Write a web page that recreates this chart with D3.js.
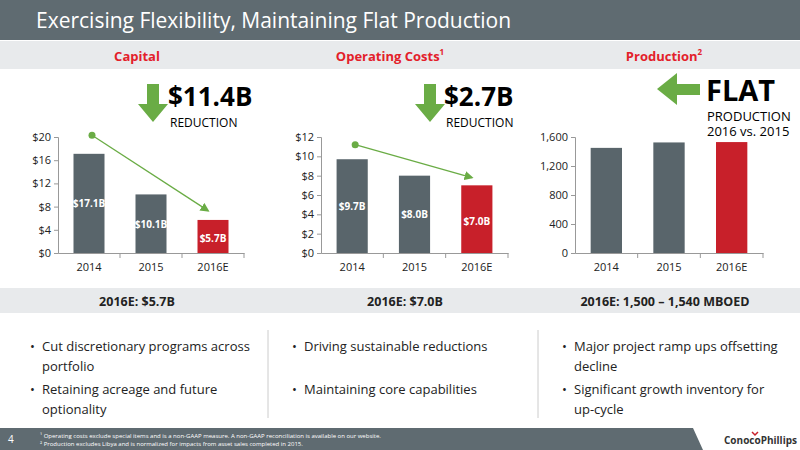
<!DOCTYPE html>
<html><head><meta charset="utf-8">
<script src="https://cdn.jsdelivr.net/npm/d3@7"></script>
<style>body{margin:0;background:#fff}svg{font-family:"Open Sans",sans-serif}</style>
</head><body><svg id="c" width="800" height="450"></svg>
<script>
var years = ["2014", "2015", "2016E"];
var capital = [17.1, 10.1, 5.7];
var capitalLabels = ["$17.1B", "$10.1B", "$5.7B"];
var opcost = [9.7, 8.0, 7.0];
var opcostLabels = ["$9.7B", "$8.0B", "$7.0B"];
var production = [1450, 1525, 1530];
var capTrend = [20.3, 7.3];
var opTrend = [11.2, 7.8];

var gray = "#59656b", red = "#c8202a", green = "#6aac45";
var svg = d3.select("#c");
var narrow = "'Liberation Sans Narrow','Open Sans',sans-serif";

// header
svg.append("rect").attr("width", 800).attr("height", 40).attr("fill", "#5f6b71");
svg.append("text").attr("x", 36).attr("y", 28).attr("fill", "#fff").style("font-size", "21px").text("Exercising Flexibility, Maintaining Flat Production");
svg.append("rect").attr("y", 41).attr("width", 800).attr("height", 28).attr("fill", "#e8eaec");
[["Capital", 137, ""], ["Operating Costs", 390, "1"], ["Production", 664, "2"]].forEach(function(t) {
  var tx = svg.append("text").attr("x", t[1]).attr("y", 61).attr("text-anchor", "middle").attr("fill", "#e3202a").style("font-size", "13px").style("font-weight", "bold").text(t[0]);
  if (t[2]) tx.append("tspan").attr("dy", -6).style("font-size", "8px").text(t[2]);
});

function downArrow(x, y) {
  svg.append("path").attr("d", "M" + (x - 6) + "," + y + "h12v20h9l-15,18l-15,-18h9z").attr("fill", green);
}
downArrow(153, 84);
downArrow(430, 84);
svg.append("path").attr("d", "M700,84v11h-23v10l-20,-16l20,-16v11z").attr("fill", green);
svg.append("text").attr("x", 168).attr("y", 106).style("font-size", "26px").style("font-weight", "bold").style("font-family", narrow).text("$11.4B");
svg.append("text").attr("x", 170).attr("y", 127).style("font-size", "12px").style("font-family", narrow).text("REDUCTION");
svg.append("text").attr("x", 444).attr("y", 106).style("font-size", "26px").style("font-weight", "bold").style("font-family", narrow).text("$2.7B");
svg.append("text").attr("x", 446).attr("y", 127).style("font-size", "12px").style("font-family", narrow).text("REDUCTION");
svg.append("text").attr("x", 706).attr("y", 101).style("font-size", "29px").style("font-weight", "bold").style("font-family", narrow).text("FLAT");
svg.append("text").attr("x", 707).attr("y", 121).style("font-size", "13px").style("font-family", narrow).text("PRODUCTION");
svg.append("text").attr("x", 707).attr("y", 136).style("font-size", "13px").style("font-family", narrow).text("2016 vs. 2015");

var defs = svg.append("defs");
defs.append("marker").attr("id", "ah").attr("viewBox", "0 0 10 10").attr("refX", 8).attr("refY", 5)
  .attr("markerWidth", 7).attr("markerHeight", 7).attr("orient", "auto")
  .append("path").attr("d", "M0,0L10,5L0,10z").attr("fill", green);

function chart(x0, x1, max, step, fmt, vals, labels, trend) {
  var x = d3.scaleBand().domain(years).range([x0, x1]).paddingInner(0.5).paddingOuter(0.25);
  var y = d3.scaleLinear().domain([0, max]).range([253, 137]);
  var g = svg.append("g");
  g.append("g").attr("transform", "translate(" + x0 + ",0)")
    .call(d3.axisLeft(y).tickValues(d3.range(0, max + 1, step)).tickFormat(fmt).tickSize(4))
    .call(function(a) { a.selectAll("text").style("font-size", "11px").style("font-family", narrow).attr("fill", "#222"); a.selectAll("line,path").attr("stroke", "#999"); });
  g.append("g").attr("transform", "translate(0,253)")
    .call(d3.axisBottom(x).tickSize(0).tickPadding(10))
    .call(function(a) { a.selectAll("text").style("font-size", "11px").style("font-family", narrow).attr("fill", "#222"); a.select("path").attr("stroke", "#999"); });
  var xs = d3.scaleLinear().domain([0, 3]).range([x0, x1]);
  [1, 2, 3].forEach(function(i) { g.append("line").attr("x1", xs(i)).attr("x2", xs(i)).attr("y1", 253).attr("y2", 258).attr("stroke", "#999"); });
  g.selectAll("rect.b").data(vals).enter().append("rect")
    .attr("x", function(d, i) { return x(years[i]); }).attr("width", x.bandwidth())
    .attr("y", function(d) { return y(d); }).attr("height", function(d) { return 253 - y(d); })
    .attr("fill", function(d, i) { return i == 2 ? red : gray; });
  if (labels) {
    g.selectAll("text.l").data(vals).enter().append("text")
      .attr("x", function(d, i) { return x(years[i]) + x.bandwidth() / 2; })
      .attr("y", function(d, i) { return i == 2 ? y(d / 2) + 6 : y(d / 2) + 4; })
      .attr("text-anchor", "middle").attr("fill", "#fff").style("font-size", "10px").style("font-weight", "bold").style("font-family", narrow)
      .text(function(d, i) { return labels[i]; });
  }
  if (trend) {
    var ax = x(years[0]) + x.bandwidth() / 2 + 3, bx = x(years[2]) + x.bandwidth() / 2 - 5;
    g.append("line").attr("x1", ax).attr("y1", y(trend[0])).attr("x2", bx).attr("y2", y(trend[1]))
      .attr("stroke", green).attr("stroke-width", 1.3).attr("marker-end", "url(#ah)");
    g.append("circle").attr("cx", ax).attr("cy", y(trend[0])).attr("r", 3.5).attr("fill", green);
  }
}
chart(58, 244, 20, 4, function(d) { return "$" + d; }, capital, capitalLabels, capTrend);
chart(321, 508, 12, 2, function(d) { return "$" + d; }, opcost, opcostLabels, opTrend);
chart(575, 763, 1600, 400, d3.format(","), production, null, null);

// summary band
svg.append("rect").attr("y", 288).attr("width", 800).attr("height", 25).attr("fill", "#e8eaec");
[["2016E: $5.7B", 137], ["2016E: $7.0B", 405], ["2016E: 1,500 \u2013 1,540 MBOED", 665]].forEach(function(t) {
  svg.append("text").attr("x", t[1]).attr("y", 306).attr("text-anchor", "middle").style("font-size", "12.5px").style("font-weight", "bold").attr("fill", "#222").text(t[0]);
});
[268, 538].forEach(function(xx) { svg.append("line").attr("x1", xx).attr("x2", xx).attr("y1", 330).attr("y2", 418).attr("stroke", "#ccc"); });

var bullets = [
  [30, [["Cut discretionary programs across", "portfolio"], ["Retaining acreage and future", "optionality"]]],
  [292, [["Driving sustainable reductions"], ["Maintaining core capabilities"]]],
  [562, [["Major project ramp ups offsetting", "decline"], ["Significant growth inventory for", "up-cycle"]]]
];
bullets.forEach(function(b) {
  b[1].forEach(function(item, i) {
    var yy = 351 + i * 43;
    svg.append("text").attr("x", b[0]).attr("y", yy).style("font-size", "13px").attr("fill", "#222").text("\u2022");
    item.forEach(function(line, j) {
      svg.append("text").attr("x", b[0] + 12).attr("y", yy + j * 20).style("font-size", "13px").attr("fill", "#222").text(line);
    });
  });
});

// footer
svg.append("rect").attr("y", 428).attr("width", 800).attr("height", 22).attr("fill", "#5f6b71");
svg.append("path").attr("d", "M693,428H800V450H703z").attr("fill", "#fff");
svg.append("text").attr("x", 8).attr("y", 443).attr("fill", "#fff").style("font-size", "10px").text("4");
svg.append("text").attr("x", 40).attr("y", 438).attr("fill", "#fff").style("font-size", "6px").text("\u00b9 Operating costs exclude special items and is a non-GAAP measure. A non-GAAP reconciliation is available on our website.");
svg.append("text").attr("x", 40).attr("y", 446).attr("fill", "#fff").style("font-size", "6px").text("\u00b2 Production excludes Libya and is normalized for impacts from asset sales completed in 2015.");
svg.append("text").attr("x", 724).attr("y", 444).attr("fill", "#333").style("font-size", "10px").style("font-weight", "bold").style("font-family", narrow).text("ConocoPhillips");
svg.append("path").attr("d", "M752,432l3,3l3,-3").attr("stroke", red).attr("stroke-width", 1.5).attr("fill", "none");
</script></body></html>
